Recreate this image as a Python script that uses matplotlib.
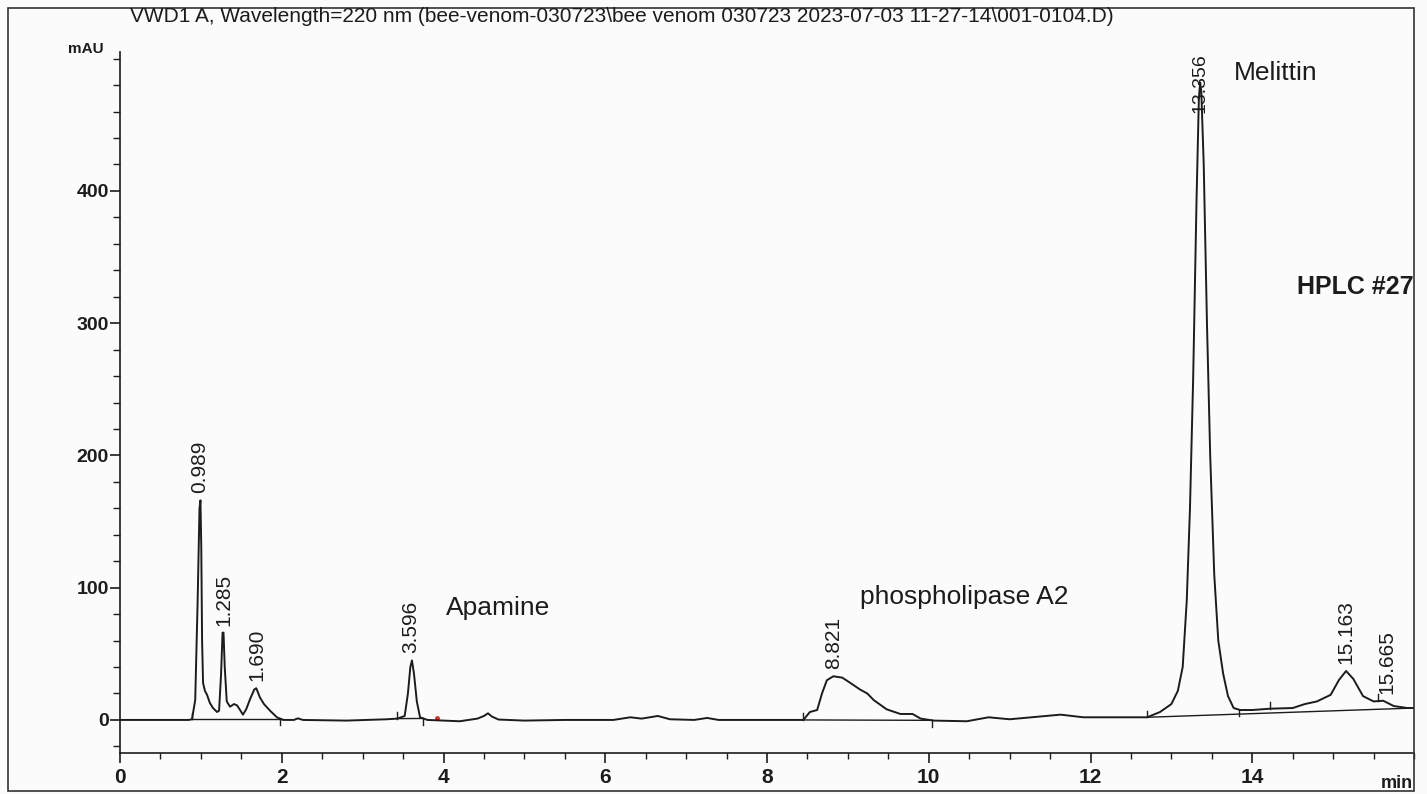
import numpy as np
import matplotlib
matplotlib.use('Agg')
import matplotlib.pyplot as plt
from matplotlib.patches import Rectangle
from matplotlib.ticker import MultipleLocator

plt.rcParams['font.family'] = ['Liberation Sans', 'DejaVu Sans']

# chromatogram trace (time in min, signal in mAU)
time_min = [0.0, 0.5, 0.85, 0.89, 0.93, 0.96, 0.983, 0.995, 1.005, 1.015, 1.027, 1.05, 1.076, 1.11,
            1.15, 1.2, 1.225, 1.25, 1.268, 1.28, 1.295, 1.32, 1.36, 1.41, 1.447, 1.49, 1.52, 1.56,
            1.61, 1.66, 1.685, 1.73, 1.78, 1.855, 1.94, 2.02, 2.15, 2.2, 2.26, 2.8, 3.3, 3.43, 3.52,
            3.56, 3.59, 3.61, 3.635, 3.67, 3.71, 3.8, 4.2, 4.42, 4.5, 4.55, 4.6, 4.68, 5.0, 5.5, 6.1,
            6.31, 6.45, 6.65, 6.8, 7.1, 7.26, 7.4, 8.0, 8.45, 8.53, 8.62, 8.68, 8.74, 8.82, 8.93,
            9.03, 9.15, 9.24, 9.32, 9.48, 9.65, 9.8, 9.9, 10.06, 10.47, 10.74, 11.0, 11.63, 11.91,
            12.37, 12.7, 12.86, 13.0, 13.08, 13.14, 13.19, 13.23, 13.27, 13.31, 13.34, 13.356, 13.37,
            13.4, 13.44, 13.48, 13.53, 13.58, 13.64, 13.7, 13.77, 13.85, 14.0, 14.22, 14.5, 14.65,
            14.8, 14.97, 15.07, 15.16, 15.25, 15.37, 15.5, 15.62, 15.75, 15.92, 16.0]
signal_mau = [0, 0, 0, 0.5, 15, 90, 160, 166, 130, 60, 28, 22, 19, 13,
              9, 6, 7, 35, 66, 66, 40, 14, 10, 12, 11, 7, 4, 8,
              16, 23, 24, 17, 12, 7, 2, 0, 0, 1.2, 0, -0.5, 0.5, 1, 3,
              20, 40, 45, 35, 14, 2, 0, -1, 1, 3, 5, 2.5, 0.3, -0.5, 0, 0,
              2, 1, 3, 0.5, 0, 1.5, 0, 0, 0, 6, 7.5, 20, 30, 33, 32,
              28, 23, 20, 15, 8, 4.5, 4.5, 1, -0.5, -1, 2, 0.5, 4, 2,
              2, 2, 6, 12, 22, 40, 90, 160, 260, 390, 470, 482, 475,
              420, 300, 200, 110, 60, 35, 18, 9, 7.5, 7.5, 8.5, 9, 12,
              14, 19, 30, 37, 31, 18, 14, 14.5, 10.5, 9, 9]

# integration baselines (start, end) in min
base_t0 = [0.89, 3.43, 8.45, 12.7]
base_t1 = [2.0, 3.75, 10.04, 16.0]

# integration event ticks
start_marks = [0.89, 3.43, 8.45, 12.7, 14.22, 15.56]
end_marks = [1.98, 3.75, 10.04, 13.83]

# labelled peaks
peak_rt = [0.989, 1.285, 1.690, 3.596, 8.821, 13.356, 15.163, 15.665]
peak_height = [166, 66, 24, 45, 33, 482, 37, 14.5]

# compound names
names = ['Apamine', 'phospholipase A2', 'Melittin']
name_t = [4.03, 9.15, 13.77]
name_y = [85, 93, 489]

title = 'VWD1 A, Wavelength=220 nm (bee-venom-030723\\bee venom 030723 2023-07-03 11-27-14\\001-0104.D)'

W, H = 1427, 794
ink = '#1c1c1c'
fig = plt.figure(figsize=(W / 100, H / 100), dpi=100, facecolor='#fbfbfb')
ax = fig.add_axes([120 / W, 41 / H, 1294 / W, 701 / H])
ax.set_facecolor('none')

ax.plot(time_min, signal_mau, color=ink, lw=1.4, zorder=3)
for a, b in zip(base_t0, base_t1):
    ya, yb = np.interp([a, b], time_min, signal_mau)
    ax.plot([a, b], [ya, yb], color=ink, lw=1.0, zorder=2)
for t in start_marks:
    y = np.interp(t, time_min, signal_mau)
    ax.plot([t, t], [y, y + 5], color=ink, lw=1.0)
for t in end_marks:
    y = np.interp(t, time_min, signal_mau)
    ax.plot([t, t], [y, y - 5], color=ink, lw=1.0)
ax.plot([3.92], [1.5], 'o', color='#e03020', ms=2.5)

ax.set_xlim(0, 16)
ax.set_ylim(-25, 505)
for t, h in zip(peak_rt, peak_height):
    lab = f'{t:.3f}'
    if h > 400:
        ax.text(t, 504, lab, rotation=90, ha='center', va='top', fontsize=14, color=ink, zorder=4)
    else:
        ax.annotate(lab, (t, h), xytext=(0, 5), textcoords='offset points', rotation=90,
                    ha='center', va='bottom', fontsize=15, color=ink)

for n, t, y in zip(names, name_t, name_y):
    ax.text(t, y, n, ha='left', va='center', fontsize=19, color=ink)
ax.text(16, 327, 'HPLC #27', ha='right', va='center', fontsize=18, fontweight='bold', color=ink)

ax.spines['top'].set_visible(False)
ax.spines['right'].set_visible(False)
ax.spines['left'].set_color(ink)
ax.spines['bottom'].set_color(ink)
ax.spines['left'].set_linewidth(1.2)
ax.spines['bottom'].set_linewidth(1.2)

ax.set_xticks(np.arange(0, 15, 2))
ax.xaxis.set_minor_locator(MultipleLocator(0.5))
ax.set_yticks(np.arange(0, 401, 100))
ax.set_yticks(np.arange(-20, 501, 20), minor=True)
ax.tick_params(axis='x', which='major', length=7, width=1.2, pad=4, labelsize=15, colors=ink)
ax.tick_params(axis='x', which='minor', length=4, width=1.0, colors=ink)
ax.tick_params(axis='y', which='major', length=7, width=1.2, pad=1, labelsize=14, colors=ink)
ax.tick_params(axis='y', which='minor', length=5, width=1.0, colors=ink)
for lab in ax.get_xticklabels() + ax.get_yticklabels():
    lab.set_fontweight('bold')

fig.text(130 / W, 1 - 17 / H, title, ha='left', va='center', fontsize=15, color=ink)
fig.text(104 / W, 1 - 49 / H, 'mAU', ha='right', va='center', fontsize=11, fontweight='bold', color=ink)
fig.text(1413 / W, 1 - 784 / H, 'min', ha='right', va='center', fontsize=13, fontweight='bold', color=ink)
fig.add_artist(Rectangle((8 / W, 3 / H), 1406 / W, 783 / H, transform=fig.transFigure,
                         fill=False, lw=1.2, ec='#333333'))

fig.savefig('out.png', dpi=100, facecolor=fig.get_facecolor())
